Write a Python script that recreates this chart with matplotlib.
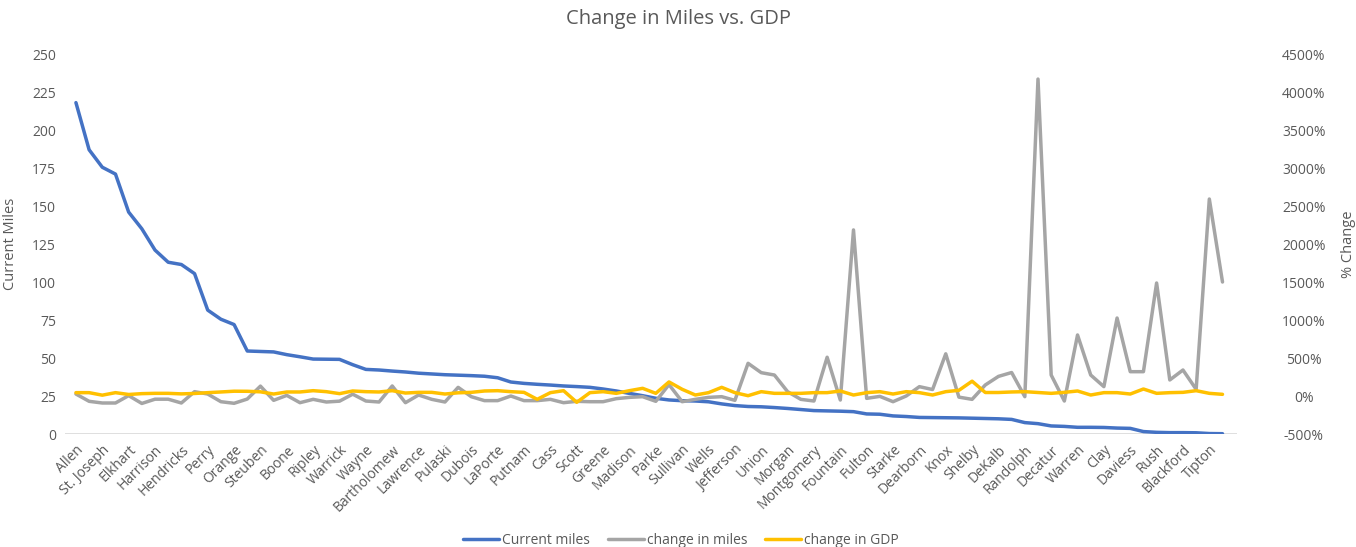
import matplotlib
matplotlib.use("Agg")
import matplotlib.pyplot as plt
from matplotlib.ticker import FuncFormatter, FixedLocator

counties = [
    "Allen", "Hamilton", "St. Joseph", "Marion", "Elkhart", "Lake", "Harrison", "Monroe",
    "Hendricks", "Vanderburgh", "Perry", "Tippecanoe", "Orange", "Johnson", "Steuben", "Porter",
    "Boone", "Delaware", "Ripley", "Kosciusko", "Warrick", "Floyd", "Wayne", "Clark",
    "Bartholomew", "Hancock", "Lawrence", "Vigo", "Pulaski", "Howard", "Dubois", "Grant",
    "LaPorte", "Noble", "Putnam", "Henry", "Cass", "Huntington", "Scott", "Jackson",
    "Greene", "Wabash", "Madison", "Whitley", "Parke", "Marshall", "Sullivan", "Miami",
    "Wells", "Gibson", "Jefferson", "Posey", "Union", "Jasper", "Morgan", "Jennings",
    "Montgomery", "Clinton", "Fountain", "Washington", "Fulton", "Adams", "Starke", "Franklin",
    "Dearborn", "Fayette", "Knox", "Owen", "Shelby", "White", "DeKalb", "Spencer",
    "Randolph", "Carroll", "Decatur", "Brown", "Warren", "Jay", "Clay", "Vermillion",
    "Daviess", "Pike", "Rush", "Crawford", "Blackford", "Newton", "Tipton", "Martin",
]

current_miles = [
    218, 187, 175.5, 171, 146, 135, 121, 113, 111.5, 105.5, 81.5, 75.5, 72, 54.6, 54.3, 54,
    52.2, 50.8, 49.3, 49.2, 49.1, 45.6, 42.5, 42.1, 41.4, 40.8, 40, 39.5, 39, 38.7, 38.4, 38,
    37, 34.2, 33.3, 32.7, 32.2, 31.6, 31.2, 30.7, 29.6, 28.3, 26.7, 25.2, 23.5, 22.4, 21.9, 21.7,
    21.2, 19.8, 18.7, 18.1, 17.9, 17.4, 16.8, 16.1, 15.4, 15.2, 15.0, 14.7, 13.2, 13.0, 11.9, 11.5,
    10.9, 10.8, 10.7, 10.6, 10.4, 10.2, 10.0, 9.6, 7.5, 6.8, 5.3, 5.0, 4.4, 4.4, 4.3, 3.9,
    3.7, 1.6, 1.1, 0.9, 0.9, 0.8, 0.3, 0.2,
]

change_in_miles = [
    26, -70, -92, -92, 5, -98, -42, -42, -92, 57, 26, -75, -96, -40, 130, -57,
    8, -88, -44, -79, -68, 24, -66, -79, 132, -88, 13, -44, -79, 114, -9, -61,
    -61, 0, -61, -61, -44, -88, -70, -75, -75, -35, -18, -9, -70, 150, -75, -44,
    -18, -9, -57, 430, 307, 276, 57, -44, -66, 510, -53, 2185, -31, -5, -75, 0,
    123, 85, 555, -15, -44, 145, 258, 309, -9, 4170, 276, -66, 803, 276, 123, 1026,
    320, 320, 1487, 211, 342, 88, 2592, 1500,
]

change_in_gdp = [
    44, 44, 11, 44, 20, 31, 35, 35, 28, 33, 44, 53, 63, 62, 55, 26,
    53, 53, 70, 57, 31, 66, 57, 53, 70, 39, 48, 48, 26, 42, 48, 66,
    70, 57, 48, -44, 44, 70, -83, 44, 57, 35, 70, 101, 35, 185, 88, 13,
    44, 114, 44, 4, 57, 35, 35, 35, 44, 44, 66, 13, 44, 57, 26, 57,
    44, 13, 57, 75, 195, 46, 46, 53, 57, 46, 35, 48, 66, 13, 44, 44,
    26, 92, 35, 44, 48, 70, 35, 22,
]

miles_ticks = [0, 25, 50, 75, 100, 125, 150, 175, 200, 225, 250]
pct_ticks = list(range(-500, 4501, 500))

BLUE = "#4472C4"
GRAY = "#A5A5A5"
GOLD = "#FFC000"
TEXT = "#595959"

plt.rcParams["font.family"] = ["Open Sans", "DejaVu Sans"]

fig = plt.figure(figsize=(13.56, 5.47), dpi=100)
ax = fig.add_axes([65 / 1356, 113 / 547, (1237 - 65) / 1356, 380 / 547])
ax2 = ax.twinx()

x = list(range(len(counties)))
line_kw = dict(lw=2.5, solid_joinstyle="round", solid_capstyle="round")
l1, = ax.plot(x, current_miles, color=BLUE, label="Current miles", **line_kw)
l2, = ax2.plot(x, change_in_miles, color=GRAY, label="change in miles", **line_kw)
l3, = ax2.plot(x, change_in_gdp, color=GOLD, label="change in GDP", **line_kw)

ax.set_xlim(-0.83, 88.1)
ax.set_ylim(0, 250)
ax2.set_ylim(-500, 4500)

ax.yaxis.set_major_locator(FixedLocator(miles_ticks))
ax2.yaxis.set_major_locator(FixedLocator(pct_ticks))
ax2.yaxis.set_major_formatter(FuncFormatter(lambda v, p: f"{int(v)}%"))

ax.set_xticks(x[::2])
ax.set_xticklabels(counties[::2], rotation=45, ha="right", rotation_mode="anchor",
                   fontsize=9.5, color=TEXT)

for a in (ax, ax2):
    for s in a.spines.values():
        s.set_visible(False)
    a.tick_params(length=0, labelsize=10, labelcolor=TEXT)
ax.tick_params(axis="x", pad=6)
ax.tick_params(axis="y", pad=6.5)
ax2.tick_params(axis="y", pad=48)
for lab in ax2.get_yticklabels():
    lab.set_horizontalalignment("center")

ax.axhline(0, color="#D9D9D9", lw=1.2, zorder=0)

ax.set_ylabel("Current Miles", fontsize=10.5, color=TEXT)
ax.yaxis.set_label_coords((18 - 65) / 1172, 0.5)
ax2.set_ylabel("% Change", fontsize=10.5, color=TEXT, rotation=90)
ax2.yaxis.set_label_coords((1341 - 65) / 1172, 0.5)

fig.text(0.5, 1 - 19 / 547, "Change in Miles vs. GDP", ha="center", va="center",
         fontsize=14.5, color=TEXT)

fig.legend(handles=[l1, l2, l3], loc="center", bbox_to_anchor=(681 / 1356, 1 - 540 / 547),
           ncol=3, frameon=False, fontsize=10, handlelength=2.6, columnspacing=1.3,
           labelcolor=TEXT, handletextpad=0.2)

fig.savefig("out.png", dpi=100)
